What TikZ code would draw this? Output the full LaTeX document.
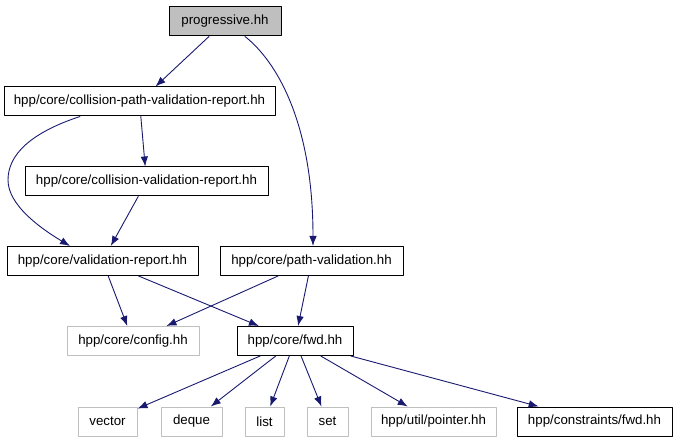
\documentclass[tikz,border=0pt]{standalone}
\usepackage{fontspec}
\setmainfont{Liberation Sans}
\usetikzlibrary{arrows.meta,calc}
\definecolor{edgeblue}{RGB}{25,25,112}
\definecolor{boxgray}{RGB}{191,191,191}
\tikzset{
  hf/.style={rectangle,draw=black,fill=white,line width=1pt,inner sep=2pt,minimum height=29pt,
             font=\fontsize{13.3}{16}\selectfont},
  sf/.style={hf,draw=boxgray},
  dep/.style={->,>={Latex[length=10pt,width=7.5pt]},draw=edgeblue,line width=0.9pt},
  every picture/.style={line cap=round,line join=round}}

\begin{document}
\begin{tikzpicture}[x=1pt,y=-1pt]
  \useasboundingbox (0,0) rectangle (676,443);
  \node[hf,fill=boxgray,minimum width=112pt] (prog) at (225,21.5) {progressive.hh};
  \node[hf,minimum width=271pt] (cpvr) at (139.5,101.5) {hpp/core/collision-path-validation-report.hh};
  \node[hf,minimum width=243pt] (cvr) at (146.5,181.5) {hpp/core/collision-validation-report.hh};
  \node[hf,minimum width=191pt] (vr) at (102.5,261) {hpp/core/validation-report.hh};
  \node[hf,minimum width=183pt] (pv) at (311.5,261) {hpp/core/path-validation.hh};
  \node[sf,minimum width=132pt] (cfg) at (133,341) {hpp/core/config.hh};
  \node[hf,minimum width=116pt] (fwd) at (295,341) {hpp/core/fwd.hh};
  \node[sf,minimum width=59pt] (vec) at (107.5,421.5) {vector}; \node[sf,minimum width=61pt] (deq) at (191.5,421.5) {deque};
  \node[sf,minimum width=39pt] (lst) at (264.5,421.5) {list}; \node[sf,minimum width=41pt] (set) at (327.5,421.5) {set};
  \node[sf,minimum width=125pt] (ptr) at (433.5,421.5) {hpp/util/pointer.hh};
  \node[hf,minimum width=155pt] (cns) at (594.5,421.5) {hpp/constraints/fwd.hh};
  \draw[dep] (prog)--(cpvr); \draw[dep] (cpvr)--(cvr); \draw[dep] (cvr)--(vr);
  \draw[dep] ($(prog.south)+(20,0)$) .. controls (275,60) and (313,120) .. ($(pv.north)+(1.5,0)$);
  \draw[dep] ($(cpvr.south)+(-59.5,0)$) .. controls (30,133) and (8,155) .. (8,180)
    .. controls (8,205) and (40,228) .. ($(vr.north)+(-32.5,0)$);
  \draw[dep] (vr)--(cfg); \draw[dep] (vr)--(fwd); \draw[dep] (pv)--(cfg); \draw[dep] (pv)--(fwd);
  \draw[dep] (fwd)--(vec); \draw[dep] (fwd)--(deq); \draw[dep] (fwd)--(lst);
  \draw[dep] (fwd)--(set); \draw[dep] (fwd)--(ptr); \draw[dep] (fwd)--(cns);
\end{tikzpicture}
\end{document}
